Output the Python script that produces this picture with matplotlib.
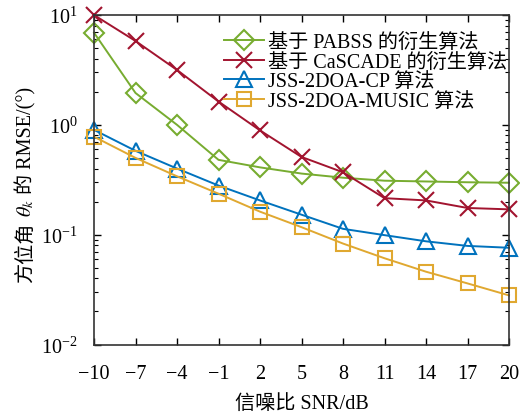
import numpy as np
import matplotlib
matplotlib.use("Agg")
import matplotlib.pyplot as plt
from matplotlib.ticker import LogLocator, FixedLocator, NullFormatter

plt.rcParams["font.family"] = ["Liberation Serif", "Noto Sans CJK SC"]
plt.rcParams["mathtext.fontset"] = "stix"

snr = [-10, -7, -4, -1, 2, 5, 8, 11, 14, 17, 20]
pabss   = [6.9, 1.95, 1.0, 0.48, 0.41, 0.36, 0.33, 0.31, 0.305, 0.30, 0.297]
cascade = [10.0, 5.8, 3.16, 1.63, 0.89, 0.51, 0.37, 0.215, 0.205, 0.175, 0.17]
jss_cp  = [0.90, 0.58, 0.40, 0.28, 0.205, 0.152, 0.113, 0.099, 0.087, 0.079, 0.076]
jss_mu  = [0.78, 0.50, 0.34, 0.236, 0.162, 0.117, 0.083, 0.061, 0.046, 0.036, 0.028]

labels = ["基于 PABSS 的衍生算法", "基于 CaSCADE 的衍生算法",
          "JSS-2DOA-CP 算法", "JSS-2DOA-MUSIC 算法"]
colors = ["#77AC30", "#A2142F", "#0072BD", "#E0A830"]
markers = ["D", "x", "^", "s"]
msizes = [10, 11, 11, 10]

W, H = 520, 414
fig = plt.figure(figsize=(W / 100, H / 100), dpi=100)
ax = fig.add_axes([94 / W, 1 - 345.5 / H, 415 / W, 329.5 / H])

for ys, lab, c, m, ms in zip([pabss, cascade, jss_cp, jss_mu], labels, colors, markers, msizes):
    ax.plot(snr, ys, color=c, marker=m, markersize=ms, markerfacecolor="none",
            markeredgecolor=c, markeredgewidth=1.5, linewidth=1.4, label=lab,
            clip_on=False)

ax.set_yscale("log")
ax.set_ylim(1e-2, 1e1)
ax.set_xlim(-10, 20)
ax.xaxis.set_major_locator(FixedLocator(snr))
ax.set_xticklabels(["\u2212" + str(-v) if v < 0 else str(v) for v in snr])
ax.yaxis.set_major_locator(LogLocator(base=10, numticks=10))
ax.yaxis.set_minor_locator(LogLocator(base=10, subs=np.arange(2, 10), numticks=20))
ax.yaxis.set_minor_formatter(NullFormatter())

ax.tick_params(which="both", direction="in", top=True, right=True, labelsize=14.5)
ax.tick_params(axis="x", pad=14)
ax.tick_params(axis="y", pad=12)
ax.tick_params(which="major", length=5, width=1)
ax.tick_params(which="minor", length=3, width=0.8)
for sp in ax.spines.values():
    sp.set_linewidth(1.2)
    sp.set_color("#333333")

ax.set_xlabel("信噪比 SNR/dB", fontsize=14.5, labelpad=8)

leg = ax.legend(loc="upper right", bbox_to_anchor=(1.0, 0.951), fontsize=14.5,
                frameon=False, handlelength=2.0, handletextpad=0.2,
                labelspacing=0.02, borderpad=0.1, borderaxespad=0.0)

# y label: CJK text + math theta_k, built from pieces
fig.canvas.draw()
rend = fig.canvas.get_renderer()
pieces = ["方位角", r"$\theta_k$", "的 RMSE/(°)"]
gap = 5
base_x = 31
center_y = 185
txts = []
for s in pieces:
    t = fig.text(0, 0, s, fontsize=14.5, rotation=90, rotation_mode="anchor",
                 ha="left", va="baseline")
    txts.append(t)
lens = [t.get_window_extent(rend).height for t in txts]
total = sum(lens) + gap * (len(lens) - 1)
y = (H - center_y) - total / 2
for t, L in zip(txts, lens):
    t.set_position((base_x / W, y / H))
    y += L + gap

fig.savefig("out.png", dpi=100)
